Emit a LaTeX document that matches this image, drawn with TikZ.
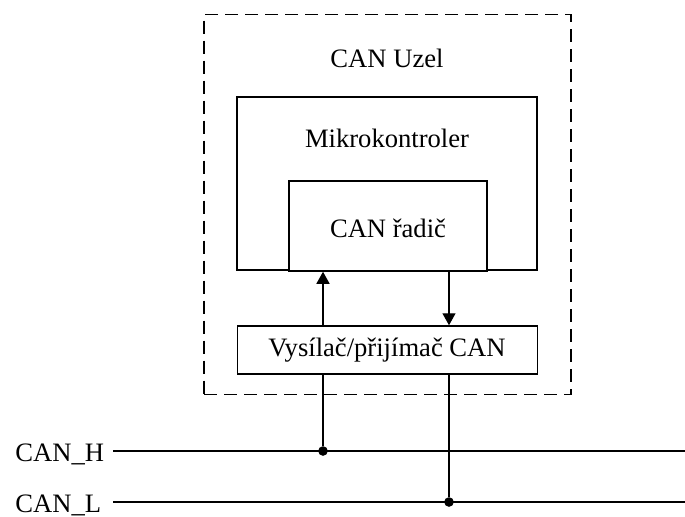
\documentclass[tikz,border=0pt]{standalone}
\usepackage{fontspec}
\setmainfont{Liberation Serif}
\usetikzlibrary{arrows.meta}
\begin{document}
\begin{tikzpicture}[x=0.5pt,y=-0.5pt,
  every node/.style={font=\fontsize{13.3}{15}\selectfont},
  blk/.style={draw,line width=0.75pt,inner sep=0,rectangle},
  dashbox/.style={draw,line width=0.8pt,inner sep=0,rectangle,dash pattern=on 6.5pt off 3.5pt},
  lbl/.style={inner sep=0},
  wire/.style={line width=0.7pt},
  arr/.style={line width=0.7pt,-{Triangle[length=6pt,width=6.5pt]}},
  dot/.style={circle,fill,inner sep=0,minimum size=4.8pt}]
\useasboundingbox (0,0) rectangle (685,516);
% boxes
\node[dashbox,minimum width=183.5pt,minimum height=190pt] (uzel) at (387.5,204.5) {};
\node[blk,minimum width=150pt,minimum height=86.5pt] (mcu) at (387,183.5) {};
\node[blk,fill=white,minimum width=99pt,minimum height=45pt] (radic) at (388,226) {};
\node[blk,minimum width=150pt,minimum height=24pt] (vys) at (387.5,350) {};
% labels
\node[lbl] (tuzel) at (387,58) {CAN Uzel};
\node[lbl] (tmcu) at (387,138) {Mikrokontroler};
\node[lbl] (tradic) at (388,228) {CAN řadič};
\node[lbl] (tvys) at (387,350) {Vysílač/přijímač CAN};
% bus
\node[lbl,anchor=base west] (canh) at (15,461) {CAN\_H};
\node[lbl,anchor=base west] (canl) at (15,512) {CAN\_L};
\coordinate (h0) at (113,451);
\coordinate (h1) at (685,451);
\coordinate (l0) at (113,502);
\coordinate (l1) at (685,502);
\draw[wire] (h0) -- (h1);
\draw[wire] (l0) -- (l1);
\node[dot] (dh) at (323,451) {};
\node[dot] (dl) at (449,502) {};
% arrows
\coordinate (ua) at (323,0);
\coordinate (da) at (449,0);
\draw[arr] (vys.north -| ua) -- (radic.south -| ua);
\draw[arr] (radic.south -| da) -- (vys.north -| da);
\draw[wire] (vys.south -| dh) -- (dh);
\draw[wire] (vys.south -| dl) -- (dl);
\end{tikzpicture}
\end{document}
